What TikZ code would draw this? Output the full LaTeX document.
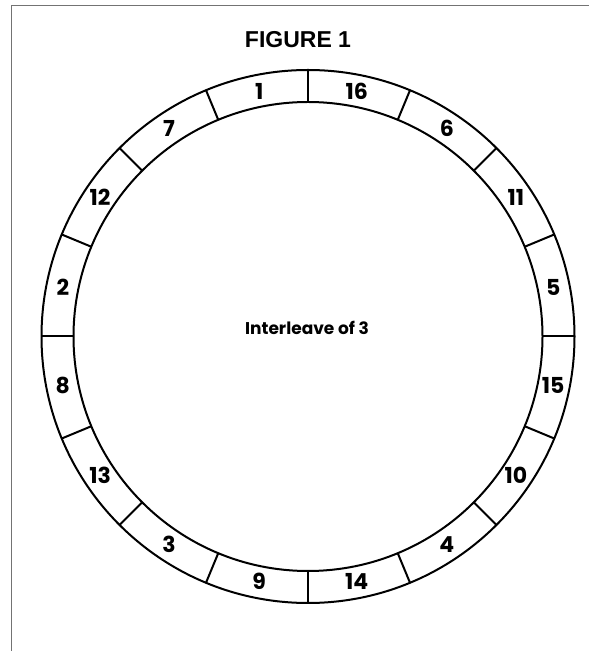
\documentclass[tikz,border=0pt]{standalone}
\usepackage{fontspec}
\newfontfamily\headfont{Liberation Sans}
\newfontfamily\ringfont{Poppins}
\usepackage{tikz}
\usetikzlibrary{positioning}

\begin{document}
\begin{tikzpicture}[
    x=1pt, y=1pt,
    frame/.style={draw=black!55, line width=0.8pt},
    ring/.style={line width=2pt},
    seglabel/.style={font=\ringfont\bfseries\fontsize{22}{22}\selectfont, inner sep=0pt},
    midlabel/.style={font=\ringfont\bfseries\fontsize{17}{17}\selectfont, inner sep=0pt},
    headlabel/.style={font=\headfont\bfseries\fontsize{23}{23}\selectfont, inner sep=0pt}
]
    \useasboundingbox (0,0) rectangle (589,651);
    \coordinate (c) at (308,314.5);

    % page frame
    \draw[frame] (11,0) -- (11,645.4) -- (589,645.4);

    % title
    \node[headlabel] (fig) at (298,611) {FIGURE 1};

    % ring of 16 sectors
    \draw[ring] (c) circle[radius=266.5];
    \draw[ring] (c) circle[radius=234.5];
    \foreach \k in {0,...,15}
        \draw[ring, shift={(c)}] (\k*22.5:234.5) -- (\k*22.5:266.5);

    % sector numbers, counter-clockwise from the top
    \foreach \lab [count=\i from 0] in {1,7,12,2,8,13,3,9,14,4,10,15,5,11,6,16}
        \node[seglabel] (seg\lab) at ([shift={(c)}]{101.25+\i*22.5}:250) {\lab};

    \node[midlabel] (inter) at (307,323) {Interleave of 3};
\end{tikzpicture}
\end{document}
